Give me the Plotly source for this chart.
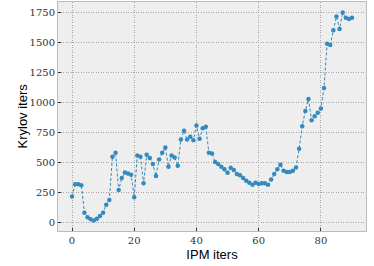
import plotly.graph_objects as go

ipm_iters = list(range(91))
krylov_iters = [
    215, 318, 318, 310, 80, 42, 25, 14, 30, 52,
    80, 147, 186, 547, 580, 269, 369, 416, 408, 397,
    208, 558, 547, 325, 563, 536, 486, 386, 525, 580,
    625, 463, 558, 542, 472, 692, 764, 692, 714, 686,
    808, 697, 786, 797, 580, 575, 503, 486, 463, 442,
    413, 455, 436, 403, 392, 369, 347, 330, 313, 330,
    319, 325, 325, 313, 358, 403, 442, 480, 430, 419,
    419, 430, 458, 614, 803, 930, 1030, 853, 886, 914,
    950, 1122, 1492, 1480, 1603, 1719, 1614, 1753, 1708, 1697,
    1708,
]
x_ticks = [0, 20, 40, 60, 80]
y_ticks = [0, 250, 500, 750, 1000, 1250, 1500, 1750]

color = "#348ABD"
title_font = dict(family="Liberation Sans", size=13, color="black")

fig = go.Figure()
fig.add_trace(go.Scatter(
    x=ipm_iters, y=krylov_iters, mode="lines+markers",
    line=dict(color=color, width=1, dash="3px,2px"),
    marker=dict(color=color, size=4.5),
    showlegend=False,
))

axis_common = dict(
    showgrid=True, gridcolor="#a8a8a8", griddash="1px,1.5px", gridwidth=1,
    zeroline=False, showline=True, linecolor="#bcbcbc", linewidth=1, mirror=True,
    ticks="inside", ticklen=3, tickcolor="#333333",
    tickfont=dict(family="DejaVu Serif", size=10, color="#333333"),
)

fig.update_layout(
    width=374, height=266,
    margin=dict(l=58, r=8, t=2, b=35),
    paper_bgcolor="white", plot_bgcolor="#eeeeee",
    xaxis=dict(range=[-4.5, 94.5], tickvals=x_ticks,
               title=dict(text="IPM iters", font=title_font, standoff=4),
               automargin=False, **axis_common),
    yaxis=dict(range=[-73, 1840], tickvals=y_ticks,
               automargin=False, **axis_common),
    annotations=[dict(
        text="Krylov iters", font=title_font, textangle=-90,
        xref="paper", yref="paper", x=0, y=0.5, xanchor="center", yanchor="middle",
        xshift=-36, showarrow=False,
    )],
)

fig.write_html("out.html", config={"displayModeBar": False},
               post_script="document.body.style.margin='0';")
